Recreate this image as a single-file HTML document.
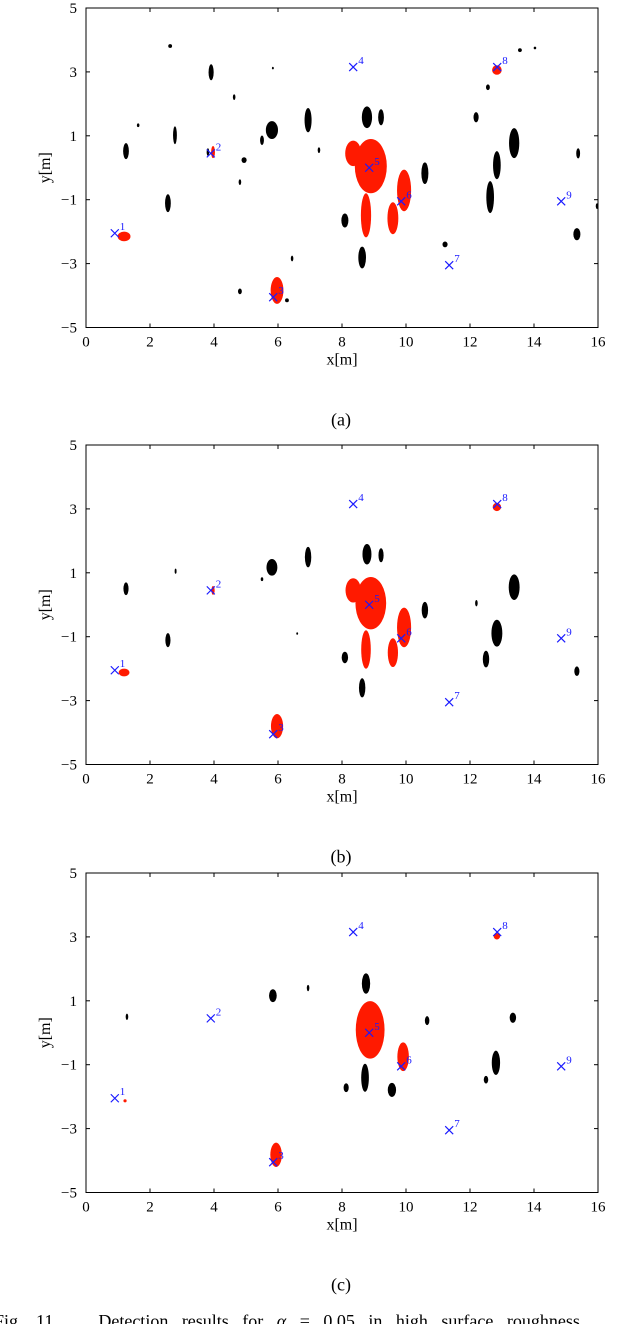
<!DOCTYPE html>
<html><head><meta charset="utf-8"><style>
body{margin:0;background:#fff;width:640px;height:1324px;overflow:hidden;font-family:"Liberation Serif",serif}
svg{position:absolute;left:0;top:0}
</style></head><body>
<svg id="fig" width="640" height="1324" font-family="Liberation Serif, serif"></svg>
<script>
const xTicks=[0,2,4,6,8,10,12,14,16];
const yTicks=[-5,-3,-1,1,3,5];
const markerX=[0.9,3.9,5.85,8.35,8.85,9.85,11.35,12.85,14.85];
const markerY=[-2.05,0.45,-4.05,3.15,0,-1.05,-3.05,3.15,-1.05];
const markerLabels=["1","2","3","4","5","6","7","8","9"];
const panelLabels=["(a)","(b)","(c)"];
// blobs: [x, y, rx, ry] in data units
const blackA=[[1.25,0.52,0.09,0.25],[2.56,-1.11,0.09,0.28],[2.78,1.02,0.06,0.28],[3.91,2.99,0.08,0.25],[5.81,1.18,0.19,0.28],[6.94,1.49,0.11,0.38],[8.78,1.58,0.16,0.34],[9.22,1.58,0.09,0.25],[8.09,-1.65,0.11,0.22],[8.63,-2.81,0.12,0.34],[10.59,-0.17,0.11,0.34],[12.19,1.58,0.08,0.16],[12.63,-0.92,0.12,0.5],[12.84,0.08,0.12,0.44],[13.38,0.77,0.16,0.47],[15.34,-2.08,0.11,0.19],[15.38,0.45,0.06,0.16],[3.81,0.49,0.04,0.12],[5.5,0.86,0.06,0.15],[4.81,-0.45,0.04,0.09],[4.94,0.24,0.08,0.09],[2.63,3.81,0.06,0.06],[4.63,2.21,0.04,0.09],[7.28,0.55,0.04,0.09],[12.56,2.52,0.06,0.09],[13.56,3.68,0.06,0.06],[14.03,3.75,0.04,0.04],[11.22,-2.4,0.08,0.09],[4.81,-3.87,0.06,0.09],[6.28,-4.15,0.06,0.06],[6.44,-2.84,0.04,0.09],[15.97,-1.2,0.04,0.09],[1.63,1.33,0.04,0.06],[5.84,3.12,0.03,0.04]];
const redA=[[8.9,0.05,0.5,0.85],[8.35,0.45,0.25,0.4],[8.75,-1.49,0.16,0.69],[9.94,-0.71,0.22,0.65],[9.59,-1.58,0.17,0.5],[1.19,-2.15,0.2,0.15],[5.97,-3.84,0.2,0.42],[12.84,3.06,0.15,0.15],[3.97,0.49,0.06,0.19]];
const blackB=[[1.25,0.5,0.08,0.2],[2.56,-1.11,0.08,0.22],[5.81,1.17,0.17,0.26],[6.94,1.49,0.1,0.32],[8.78,1.58,0.14,0.32],[9.22,1.55,0.08,0.22],[8.09,-1.65,0.1,0.18],[8.63,-2.6,0.1,0.3],[10.59,-0.17,0.1,0.26],[12.84,-0.89,0.17,0.42],[13.38,0.55,0.17,0.4],[12.5,-1.7,0.1,0.26],[15.34,-2.08,0.08,0.15],[12.2,0.05,0.04,0.1],[2.8,1.05,0.03,0.08],[5.5,0.8,0.04,0.06],[6.6,-0.9,0.03,0.04]];
const redB=[[8.9,0.05,0.48,0.82],[8.35,0.45,0.24,0.38],[8.75,-1.4,0.15,0.6],[9.94,-0.71,0.22,0.62],[9.59,-1.5,0.16,0.45],[1.19,-2.12,0.17,0.12],[5.97,-3.8,0.19,0.38],[12.84,3.06,0.13,0.13],[3.97,0.45,0.05,0.14]];
const blackC=[[1.28,0.5,0.04,0.1],[5.84,1.16,0.12,0.2],[6.94,1.4,0.04,0.1],[8.75,1.54,0.13,0.32],[8.13,-1.72,0.08,0.14],[8.72,-1.41,0.12,0.44],[9.56,-1.79,0.13,0.22],[10.66,0.38,0.07,0.14],[12.81,-0.94,0.13,0.38],[13.34,0.47,0.1,0.16],[12.5,-1.47,0.07,0.12]];
const redC=[[8.88,0.09,0.45,0.9],[9.91,-0.75,0.18,0.45],[5.94,-3.82,0.18,0.38],[12.84,3.02,0.1,0.1],[1.22,-2.13,0.05,0.05]];
const panelBlack=[blackA,blackB,blackC];
const panelRed=[redA,redB,redC];
const panelTops=[8,445,873];

const NS="http://www.w3.org/2000/svg";
const svg=document.getElementById('fig');
function mk(tag,attrs,parent){const e=document.createElementNS(NS,tag);for(const k in attrs)e.setAttribute(k,attrs[k]);(parent||svg).appendChild(e);return e;}
const L=86,R=598,H=319.5;
panelTops.forEach((top,p)=>{
  const sx=v=>L+(v-0)*(R-L)/16;
  const sy=v=>top+(5-v)*H/10;
  const g=mk('g',{});
  
  
  panelBlack[p].forEach(b=>{
    const e=mk('ellipse',{cx:sx(b[0]),cy:sy(b[1]),rx:b[2]*32,ry:b[3]*31.95,fill:'#000'},g);
    
    
  });
  panelRed[p].forEach(b=>{
    const e=mk('ellipse',{cx:sx(b[0]),cy:sy(b[1]),rx:b[2]*32,ry:b[3]*31.95,fill:'#ff1a00'},g);
    
    
  });
  markerX.forEach((x,i)=>{
    const cx=sx(x),cy=sy(markerY[i]);
    const m=mk('path',{d:`M${cx-4} ${cy-4}L${cx+4} ${cy+4}M${cx-4} ${cy+4}L${cx+4} ${cy-4}`,stroke:'#1a1aff','stroke-width':1.2,fill:'none'},g);
    
    
    const t=mk('text',{x:cx+5,y:cy-3,'font-size':11,fill:'#1a1aff'},g);
    t.textContent=markerLabels[i];
    
    
  });
  const box=mk('rect',{x:L,y:top,width:R-L,height:H,fill:'none',stroke:'#000','stroke-width':1},g);
  
  
  xTicks.forEach(v=>{
    mk('line',{x1:sx(v),x2:sx(v),y1:top+H,y2:top+H-4,stroke:'#000'},g);
    mk('line',{x1:sx(v),x2:sx(v),y1:top,y2:top+4,stroke:'#000'},g);
    const t=mk('text',{x:sx(v),y:top+H+19,'font-size':15,'text-anchor':'middle'},g);
    t.textContent=v;
    
    
  });
  yTicks.forEach(v=>{
    mk('line',{x1:L,x2:L+4,y1:sy(v),y2:sy(v),stroke:'#000'},g);
    mk('line',{x1:R,x2:R-4,y1:sy(v),y2:sy(v),stroke:'#000'},g);
    const t=mk('text',{x:L-9,y:sy(v)+5,'font-size':15,'text-anchor':'end'},g);
    t.textContent=v<0?'\u2212'+(-v):v;
    
    
  });
  const xl=mk('text',{x:342,y:top+H+37,'font-size':16,'text-anchor':'middle'},g);
  xl.textContent='x[m]';
  
  
  const yl=mk('text',{x:0,y:0,'font-size':16,'text-anchor':'middle',transform:`translate(50 ${top+H/2}) rotate(-90)`},g);
  yl.textContent='y[m]';
  
  
  const cap=mk('text',{x:341,y:top+H+98,'font-size':18,'text-anchor':'middle'},g);
  cap.textContent=panelLabels[p];
  
  
});
const fc=mk('text',{x:-6,y:1327,'font-size':18,'word-spacing':'9px'});
fc.innerHTML='Fig. 11.&#160;&#160; Detection results for <tspan font-style="italic">α</tspan> = 0.05 in high surface roughness';


</script>
</body></html>
